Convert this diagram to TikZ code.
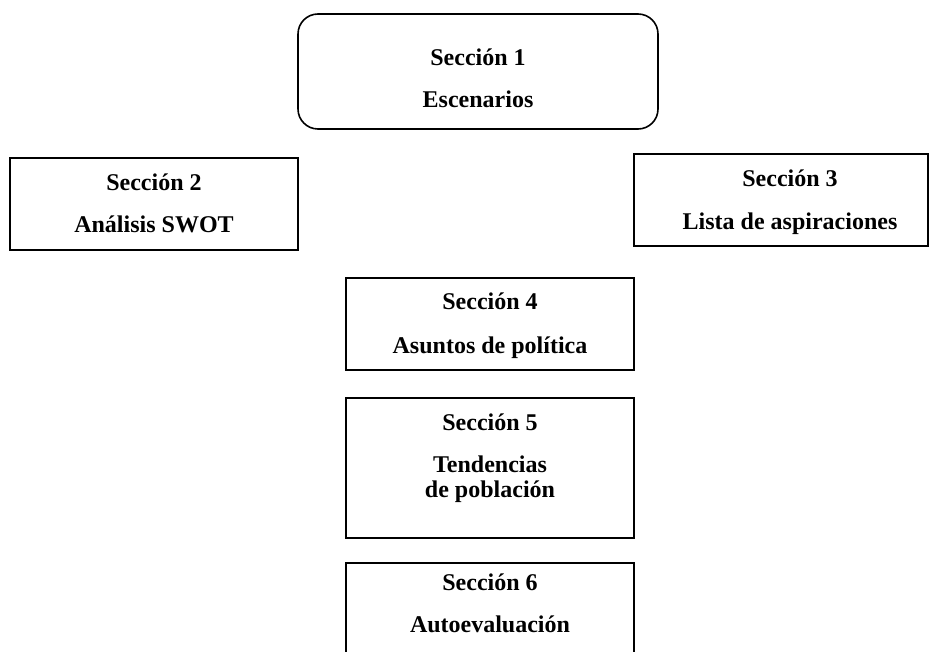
\documentclass[tikz,border=0pt]{standalone}
\usepackage{fontspec}
\setmainfont{Liberation Serif}
\begin{document}
\begin{tikzpicture}[x=0.5pt,y=-0.5pt,
  box/.style={draw,line width=0.8pt,inner sep=0pt,outer sep=0pt},
  rbox/.style={box,rounded corners=10pt},
  txt/.style={inner sep=0pt,anchor=base,font=\fontsize{12}{14}\selectfont\bfseries}]
\clip (0,0) rectangle (930,652);
\useasboundingbox (0,0) rectangle (930,652);
% boxes
\node[rbox,minimum width=180pt,minimum height=57.5pt] (b1) at (478,71.5) {};
\node[box,minimum width=144pt,minimum height=46pt] (b2) at (154,204) {};
\node[box,minimum width=147pt,minimum height=46pt] (b3) at (781,200) {};
\node[box,minimum width=144pt,minimum height=46pt] (b4) at (490,324) {};
\node[box,minimum width=144pt,minimum height=70pt] (b5) at (490,468) {};
\node[box,minimum width=144pt,minimum height=60pt] (b6) at (490,623) {};
% texts
\node[txt] (t1a) at (478,66) {Sección 1};
\node[txt] (t1b) at (478,108) {Escenarios};
\node[txt] (t2a) at (154,191) {Sección 2};
\node[txt] (t2b) at (154,233) {Análisis SWOT};
\node[txt] (t3a) at (790,187) {Sección 3};
\node[txt] (t3b) at (790,229) {Lista de aspiraciones};
\node[txt] (t4a) at (490,309) {Sección 4};
\node[txt] (t4b) at (490,353) {Asuntos de política};
\node[txt] (t5a) at (490,430) {Sección 5};
\node[txt] (t5b) at (490,472) {Tendencias};
\node[txt] (t5c) at (490,497) {de población};
\node[txt] (t6a) at (490,590) {Sección 6};
\node[txt] (t6b) at (490,632) {Autoevaluación};
\end{tikzpicture}
\end{document}
